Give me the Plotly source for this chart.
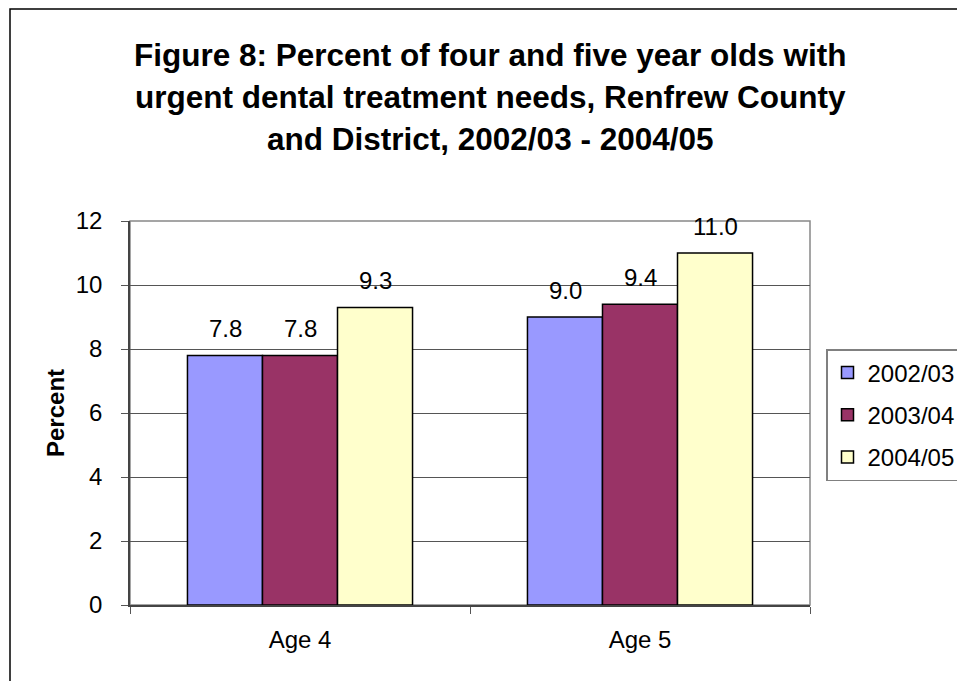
import plotly.graph_objects as go

categories = ["Age 4", "Age 5"]
series_names = ["2002/03", "2003/04", "2004/05"]
values_2002_03 = [7.8, 9.0]
values_2003_04 = [7.8, 9.4]
values_2004_05 = [9.3, 11.0]
series_values = [values_2002_03, values_2003_04, values_2004_05]
colors = ["#9999FF", "#993366", "#FFFFCC"]
title_lines = [
    "Figure 8: Percent of four and five year olds with",
    "urgent dental treatment needs, Renfrew County",
    "and District, 2002/03 - 2004/05",
]
y_ticks = [0, 2, 4, 6, 8, 10, 12]

W, H = 957, 681
L, R, T, B = 130, 810, 221, 605
pw, ph = R - L, B - T

FONT = "Liberation Sans, Arial, sans-serif"

fig = go.Figure()
for name, vals, col in zip(series_names, series_values, colors):
    fig.add_trace(go.Bar(
        x=categories, y=vals, name=name, legendgroup=name,
        marker=dict(color=col, line=dict(color="black", width=1.5)),
    ))

# data labels from data
annotations = []
n = len(series_names)
for si, vals in enumerate(series_values):
    for ci, v in enumerate(vals):
        annotations.append(dict(
            x=ci, y=v, xref="x", yref="y", text=f"{v:.1f}", showarrow=False,
            xshift=(si - (n - 1) / 2) * 75, yanchor="bottom", yshift=11,
            font=dict(family=FONT, size=24, color="black"),
        ))

# title lines
for i, line in enumerate(title_lines):
    ypix = 55 + i * 42
    annotations.append(dict(
        x=(490 - L) / pw, y=(B - ypix) / ph, xref="paper", yref="paper",
        text=f"<b>{line}</b>", showarrow=False, xanchor="center", yanchor="middle",
        font=dict(family=FONT, size=31.5, color="black"),
    ))

# y axis title
annotations.append(dict(
    x=(55 - L) / pw, y=0.5, xref="paper", yref="paper", text="<b>Percent</b>",
    showarrow=False, textangle=-90, xanchor="center", yanchor="middle",
    font=dict(family=FONT, size=24, color="black"),
))

shapes = [
    # outer chart border
    dict(type="rect", xref="paper", yref="paper",
         x0=(10 - L) / pw, x1=(965 - L) / pw, y0=(B - 690) / ph, y1=(B - 9) / ph,
         line=dict(color="black", width=1.5), fillcolor="rgba(0,0,0,0)", layer="below"),
    # plot area border
    dict(type="rect", xref="paper", yref="paper", x0=0, x1=1, y0=0, y1=1,
         line=dict(color="#888888", width=1.5), fillcolor="rgba(0,0,0,0)", layer="below"),
]

fig.update_layout(
    width=W, height=H,
    margin=dict(l=L, r=W - R, t=T, b=H - B, autoexpand=False),
    paper_bgcolor="white", plot_bgcolor="white",
    barmode="group", bargap=0.338, bargroupgap=0,
    font=dict(family=FONT, size=24, color="black"),
    showlegend=True,
    legend=dict(
        x=(826 - L) / pw, y=(B - 349) / ph, xanchor="left", yanchor="top",
        bordercolor="#808080", borderwidth=1.5, bgcolor="white",
        font=dict(family=FONT, size=24, color="black"),
        traceorder="grouped", tracegroupgap=8,
    ),
    annotations=annotations,
    shapes=shapes,
    xaxis=dict(
        showline=True, linecolor="#444444", linewidth=1.5,
        ticks="outside", tickson="boundaries", ticklen=7, tickcolor="#555555",
        showgrid=False, ticklabelstandoff=12,
        tickfont=dict(family=FONT, size=24, color="black"),
    ),
    yaxis=dict(
        range=[0, 12], tickvals=y_ticks, showline=True, linecolor="#444444", linewidth=1.5,
        ticks="outside", ticklen=7, tickcolor="#555555",
        showgrid=True, gridcolor="#555555", gridwidth=1, zeroline=False,
        ticklabelstandoff=14,
        tickfont=dict(family=FONT, size=24, color="black"),
    ),
)

fig.write_html("out.html")
